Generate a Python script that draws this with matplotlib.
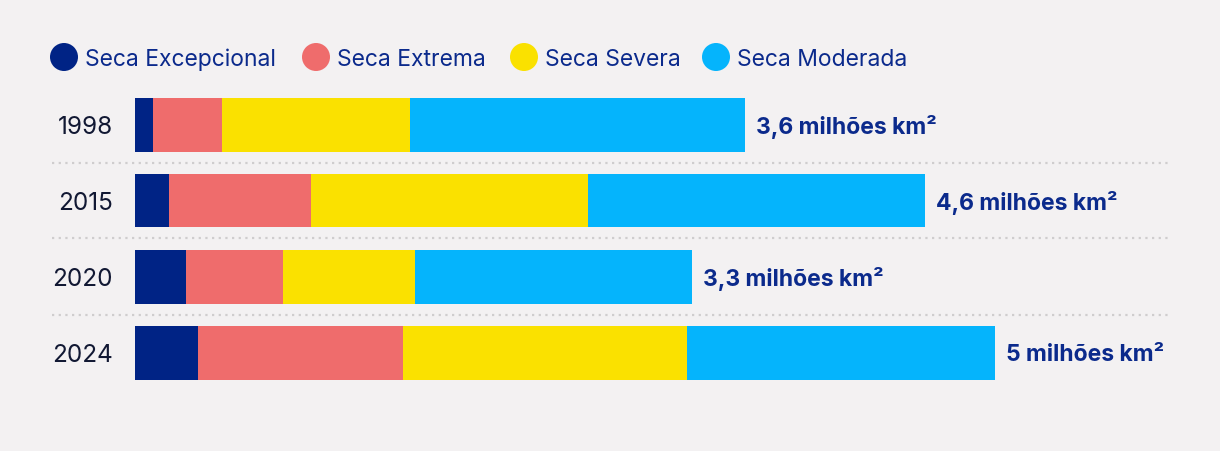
import matplotlib
matplotlib.use("Agg")
import matplotlib.pyplot as plt
from matplotlib.patches import Circle

years = ["1998", "2015", "2020", "2024"]
categories = ["Seca Excepcional", "Seca Extrema", "Seca Severa", "Seca Moderada"]
excepcional = [0.11, 0.20, 0.30, 0.37]
extrema = [0.40, 0.83, 0.57, 1.20]
severa = [1.10, 1.62, 0.77, 1.66]
moderada = [1.96, 1.97, 1.62, 1.80]
total_labels = ["3,6 milhões km²", "4,6 milhões km²", "3,3 milhões km²", "5 milhões km²"]

colors = ["#002385", "#EF6C6C", "#FAE100", "#05B4FC"]
bg = "#F3F1F2"
navy = "#0B2A8C"
dark = "#111833"
FONT = ["Inter", "DejaVu Sans"]

W, H = 1220, 452
fig = plt.figure(figsize=(W / 100, H / 100), dpi=100, facecolor=bg)

PX = 171.0          # pixels per unit
X0 = 134.5          # pixel of value 0
ROW0, ROWSTEP = 125.5, 76.0
TXT_DY = 1.8 / ROWSTEP

ax = fig.add_axes([0, 0, 1, 1])
ax.set_facecolor(bg)
ax.set_xlim(-X0 / PX, (W - X0) / PX)
ax.set_ylim((H - ROW0) / ROWSTEP, -ROW0 / ROWSTEP)
ax.axis("off")

series = [excepcional, extrema, severa, moderada]
ypos = list(range(len(years)))
left = [0.0] * len(years)
for vals, c in zip(series, colors):
    ax.barh(ypos, vals, left=left, height=54 / ROWSTEP, color=c, linewidth=0)
    left = [l + v for l, v in zip(left, vals)]

for i, (y, tot, lab) in enumerate(zip(ypos, left, total_labels)):
    ax.text(tot + 11 / PX, y + TXT_DY, lab, ha="left", va="center", fontsize=16.5,
            fontweight="bold", color=navy, family=FONT)
    ax.text(-21.5 / PX, y + TXT_DY, years[i], ha="right", va="center", fontsize=17.5,
            color=dark, family=FONT)

for k in range(len(years) - 1):
    ax.plot([(52 - X0) / PX, (1168 - X0) / PX], [k + 0.5, k + 0.5],
            color="#CFCDCE", lw=1.6, ls=(0, (1, 2)))

# legend in pixel overlay
lax = fig.add_axes([0, 0, 1, 1], facecolor="none")
lax.set_xlim(0, W)
lax.set_ylim(H, 0)
lax.axis("off")
circle_x = [64, 316, 524, 716]
for cx, c, name in zip(circle_x, colors, categories):
    lax.add_patch(Circle((cx, 58), 14, color=c, lw=0))
    lax.text(cx + 21, 59.8, name, ha="left", va="center", fontsize=16.5,
             color=navy, family=FONT)

fig.savefig("out.png", dpi=100, facecolor=bg)
